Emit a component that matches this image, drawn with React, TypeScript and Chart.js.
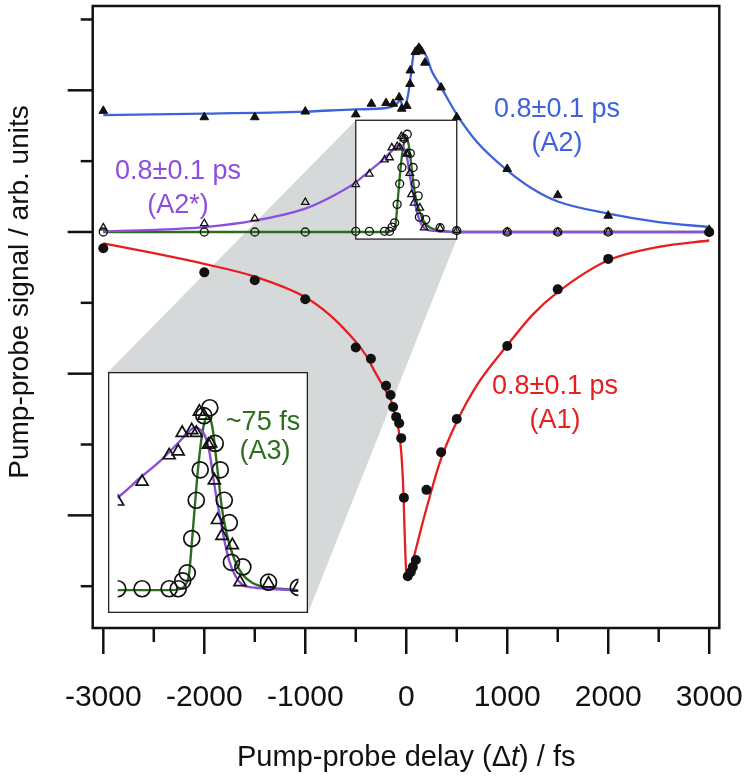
import React, { useEffect, useRef } from "react";
import { Chart, registerables } from "chart.js";
Chart.register(...registerables);

// ---------- axis ticks ----------
const xTickValues = [-3000, -2500, -2000, -1500, -1000, -500, 0, 500, 1000, 1500, 2000, 2500, 3000];
const xTickLabels = ["-3000", "-2000", "-1000", "0", "1000", "2000", "3000"];
const xLabelValues = [-3000, -2000, -1000, 0, 1000, 2000, 3000];
const yMajorTicks = [2, 0, -2, -4];
const yMinorTicks = [3, 1, -1, -3, -5];

// ---------- A1 (filled circles, red fit) ----------
const a1X = [-3000, -2000, -1500, -1000, -500, -350, -200, -155, -130, -100, -70, -50, -23, 15, 45, 65, 95, 200, 345, 500, 1000, 1500, 2000, 3000];
const a1Y = [-0.23, -0.57, -0.68, -0.95, -1.63, -1.79, -2.17, -2.3, -2.47, -2.61, -2.7, -2.91, -3.75, -4.86, -4.8, -4.73, -4.63, -3.64, -3.11, -2.64, -1.61, -0.81, -0.38, 0.0];
const a1FitX = [-3000, -2500, -2000, -1500, -1000, -750, -500, -400, -300, -200, -150, -100, -75, -50, -30, -20, -10, 0, 15, 30, 60, 100, 150, 220, 335, 500, 700, 1000, 1250, 1500, 2000, 2500, 3000];
const a1FitY = [-0.16, -0.3, -0.45, -0.63, -0.92, -1.18, -1.55, -1.74, -2.0, -2.25, -2.38, -2.64, -2.8, -3.1, -3.6, -4.05, -4.5, -4.8, -4.9, -4.86, -4.68, -4.45, -4.17, -3.8, -3.24, -2.68, -2.16, -1.6, -1.17, -0.85, -0.4, -0.21, -0.12];

// ---------- A2 (filled triangles, blue fit) ----------
const a2X = [-3000, -2000, -1500, -1000, -500, -345, -200, -130, -70, -45, 5, 37, 40, 90, 125, 150, 185, 345, 500, 1000, 1500, 2000, 3000];
const a2Y = [1.71, 1.62, 1.62, 1.7, 1.66, 1.81, 1.82, 1.81, 1.9, 1.74, 1.78, 2.09, 2.28, 2.54, 2.6, 2.55, 2.39, 2.04, 1.62, 0.89, 0.52, 0.23, 0.03];
const a2FitX = [-3000, -2000, -1000, -500, -200, -100, -60, -30, 0, 20, 40, 70, 100, 135, 170, 200, 250, 335, 500, 700, 1000, 1250, 1500, 2000, 2500, 3000];
const a2FitY = [1.65, 1.67, 1.7, 1.73, 1.75, 1.8, 1.86, 1.76, 1.83, 1.95, 2.15, 2.49, 2.61, 2.63, 2.55, 2.48, 2.28, 2.07, 1.66, 1.27, 0.87, 0.61, 0.43, 0.26, 0.14, 0.07];

// ---------- A2* (open triangles, purple fit) ----------
const a2sX = [-3000, -2000, -1500, -1000, -500, -365, -215, -165, -143, -90, -65, -48, -23, 2, 15, 35, 52, 77, 135, 177, 335, 500, 1000, 1500, 2000, 3000];
const a2sY = [0.06, 0.12, 0.19, 0.42, 0.67, 0.82, 1.02, 1.05, 1.19, 1.21, 1.19, 1.35, 1.32, 1.1, 1.11, 0.83, 0.53, 0.41, 0.34, 0.06, 0.05, 0.02, 0, 0, 0, 0];
const a2sFitX = [-3000, -2500, -2000, -1500, -1000, -750, -500, -375, -255, -175, -105, -75, -50, -25, -7, 10, 27, 43, 68, 93, 118, 150, 190, 245, 330, 500, 3000];
const a2sFitY = [0.01, 0.03, 0.07, 0.16, 0.33, 0.49, 0.7, 0.85, 0.99, 1.1, 1.2, 1.23, 1.22, 1.19, 1.13, 1.03, 0.87, 0.73, 0.54, 0.36, 0.22, 0.11, 0.04, 0.02, 0.01, 0, 0];

// ---------- A3 (open circles, green fit) ----------
const a3X = [-3000, -2000, -1500, -1000, -500, -365, -215, -165, -140, -115, -90, -65, -43, -23, 10, 40, 68, 90, 118, 130, 193, 335, 500, 1000, 1500, 2000, 3000];
const a3Y = [0, 0, 0, 0, 0.01, 0.01, 0.01, 0.01, 0.07, 0.13, 0.39, 0.68, 0.91, 1.32, 1.38, 1.11, 0.91, 0.68, 0.51, 0.21, 0.175, 0.06, 0.02, 0, 0, 0, 0];
const a3FitX = [-3000, -500, -200, -150, -120, -105, -90, -75, -60, -45, -30, -15, 0, 15, 30, 45, 60, 75, 95, 120, 150, 190, 240, 320, 400, 500, 3000];
const a3FitY = [0, 0, 0, 0.01, 0.05, 0.12, 0.35, 0.6, 0.85, 1.05, 1.2, 1.29, 1.32, 1.29, 1.18, 1.0, 0.82, 0.64, 0.48, 0.34, 0.22, 0.12, 0.06, 0.02, 0.01, 0, 0];

// zoomed window shown in the inset (data units)
const zoomX = [-500, 500];
const zoomY = [-0.1, 1.577];

const BLUE = "rgb(62,98,220)";
const PURPLE = "rgb(140,78,222)";
const RED = "rgb(232,30,30)";
const GREEN = "rgb(44,110,30)";
const FONT = "'Liberation Sans', Arial, Helvetica, sans-serif";

const INSET = { left: 108, top: 372, width: 200, height: 241 };

const pts = (xs: number[], ys: number[]) => xs.map((x, i) => ({ x, y: ys[i] }));

function makeDatasets(inset: boolean) {
  const s = inset ? 1.6 : 1;
  const lw = inset ? 2.4 : 2.3;
  const fit = (xs: number[], ys: number[], color: string, order: number) => ({
    data: pts(xs, ys),
    showLine: true,
    borderColor: color,
    borderWidth: lw,
    pointRadius: 0,
    cubicInterpolationMode: "monotone" as const,
    order,
  });
  const ds: any[] = [];
  if (!inset) {
    ds.push({
      data: pts(a1X, a1Y),
      pointStyle: "circle",
      pointRadius: 5,
      backgroundColor: "#111",
      borderColor: "#111",
      borderWidth: 0,
      order: 0,
    });
    ds.push({
      data: pts(a2X, a2Y),
      pointStyle: "triangle",
      pointRadius: 5,
      backgroundColor: "#111",
      borderColor: "#111",
      borderWidth: 1,
      order: 0,
    });
  }
  ds.push({
    data: pts(a3X, a3Y),
    pointStyle: "circle",
    pointRadius: 4 * (inset ? 2 : 1),
    backgroundColor: "rgba(0,0,0,0)",
    borderColor: "#111",
    borderWidth: inset ? 1.7 : 1.3,
    order: 0,
  });
  ds.push({
    data: pts(a2sX, a2sY),
    pointStyle: "triangle",
    pointRadius: 4.3 * s,
    backgroundColor: "rgba(0,0,0,0)",
    borderColor: "#111",
    borderWidth: inset ? 1.7 : 1.3,
    order: 0,
  });
  if (!inset) {
    ds.push(fit(a1FitX, a1FitY, RED, 2));
    ds.push(fit(a2FitX, a2FitY, BLUE, 2));
  }
  ds.push(fit(a2sFitX, a2sFitY, PURPLE, 2));
  ds.push(fit(a3FitX, a3FitY, GREEN, 3));
  return ds;
}

const mainPlugin = {
  id: "mainDecor",
  beforeDatasetsDraw(chart: any) {
    const { ctx, scales } = chart;
    const xs = scales.x, ys = scales.y;
    const l = xs.getPixelForValue(zoomX[0]);
    const r = xs.getPixelForValue(zoomX[1]);
    const t = ys.getPixelForValue(zoomY[1]);
    const b = ys.getPixelForValue(zoomY[0]);
    ctx.save();
    ctx.fillStyle = "#d5d9d9";
    ctx.beginPath();
    ctx.moveTo(l, t);
    ctx.lineTo(r, t);
    ctx.lineTo(r, b);
    ctx.lineTo(INSET.left + INSET.width, INSET.top + INSET.height);
    ctx.lineTo(INSET.left, INSET.top + INSET.height);
    ctx.lineTo(INSET.left, INSET.top);
    ctx.closePath();
    ctx.fill();
    ctx.fillStyle = "#fff";
    ctx.fillRect(l, t, r - l, b - t);
    ctx.strokeStyle = "#222";
    ctx.lineWidth = 1.3;
    ctx.strokeRect(l, t, r - l, b - t);
    ctx.restore();
  },
  afterDraw(chart: any) {
    const { ctx, chartArea: a, scales } = chart;
    const xs = scales.x, ys = scales.y;
    ctx.save();
    ctx.strokeStyle = "#111";
    ctx.lineWidth = 2.5;
    ctx.strokeRect(a.left, a.top, a.right - a.left, a.bottom - a.top);
    // x ticks
    xTickValues.forEach((v) => {
      const px = xs.getPixelForValue(v);
      const major = v % 1000 === 0;
      ctx.beginPath();
      ctx.moveTo(px, a.bottom);
      ctx.lineTo(px, a.bottom + (major ? 26 : 14));
      ctx.stroke();
    });
    // y ticks
    yMajorTicks.forEach((v) => {
      const py = ys.getPixelForValue(v);
      ctx.beginPath();
      ctx.moveTo(a.left, py);
      ctx.lineTo(a.left - 25, py);
      ctx.stroke();
    });
    yMinorTicks.forEach((v) => {
      const py = ys.getPixelForValue(v);
      ctx.beginPath();
      ctx.moveTo(a.left, py);
      ctx.lineTo(a.left - 12, py);
      ctx.stroke();
    });
    // x tick labels
    ctx.fillStyle = "#111";
    ctx.font = `30px ${FONT}`;
    ctx.textAlign = "center";
    ctx.textBaseline = "middle";
    xLabelValues.forEach((v, i) => {
      ctx.fillText(xTickLabels[i], xs.getPixelForValue(v), 698);
    });
    // x title with italic t
    const parts = [
      { t: "Pump-probe delay (\u0394", f: `29px ${FONT}` },
      { t: "t", f: `italic 29px ${FONT}` },
      { t: ") / fs", f: `29px ${FONT}` },
    ];
    let total = 0;
    parts.forEach((p) => { ctx.font = p.f; total += ctx.measureText(p.t).width; });
    let cx = xs.getPixelForValue(0) - total / 2;
    ctx.textAlign = "left";
    parts.forEach((p) => { ctx.font = p.f; ctx.fillText(p.t, cx, 758); cx += ctx.measureText(p.t).width; });
    // y title
    ctx.save();
    ctx.translate(20, 292);
    ctx.rotate(-Math.PI / 2);
    ctx.textAlign = "center";
    ctx.font = `28px ${FONT}`;
    ctx.fillText("Pump-probe signal / arb. units", 0, 0);
    ctx.restore();
    // annotations
    ctx.textAlign = "center";
    ctx.font = `27px ${FONT}`;
    const ann = (lines: string[], x: number, y: number, c: string) => {
      ctx.fillStyle = c;
      lines.forEach((s, i) => ctx.fillText(s, x, y + i * 34));
    };
    ann(["0.8\u00b10.1 ps", "(A2)"], 557, 110, BLUE);
    ann(["0.8\u00b10.1 ps", "(A2*)"], 178, 172, PURPLE);
    ann(["0.8\u00b10.1 ps", "(A1)"], 555, 387, RED);
    ctx.restore();
  },
};

const insetPlugin = {
  id: "insetDecor",
  beforeDraw(chart: any) {
    const { ctx, width, height } = chart;
    ctx.save();
    ctx.fillStyle = "#fff";
    ctx.fillRect(0, 0, width, height);
    ctx.restore();
  },
  afterDraw(chart: any) {
    const { ctx, width, height } = chart;
    ctx.save();
    ctx.fillStyle = GREEN;
    ctx.font = `27px ${FONT}`;
    ctx.textAlign = "center";
    ctx.textBaseline = "middle";
    ctx.fillText("~75 fs", 263 - INSET.left, 423 - INSET.top);
    ctx.fillText("(A3)", 265 - INSET.left, 452 - INSET.top);
    ctx.strokeStyle = "#222";
    ctx.lineWidth = 1.3;
    ctx.strokeRect(0.65, 0.65, width - 1.3, height - 1.3);
    ctx.restore();
  },
};

export default function App() {
  const mainRef = useRef<HTMLCanvasElement>(null);
  const insetRef = useRef<HTMLCanvasElement>(null);

  useEffect(() => {
    const main = new Chart(mainRef.current!, {
      type: "scatter",
      data: { datasets: makeDatasets(false) },
      options: {
        animation: false,
        responsive: false,
        maintainAspectRatio: false,
        layout: { padding: { left: 92.7, right: 25.7, top: 3, bottom: 149 } },
        scales: {
          x: { type: "linear", min: -3105, max: 3100, display: false },
          y: { type: "linear", min: -5.59, max: 3.19, display: false },
        },
        plugins: { legend: { display: false }, tooltip: { enabled: false } },
      },
      plugins: [mainPlugin],
    } as any);
    const inset = new Chart(insetRef.current!, {
      type: "scatter",
      data: { datasets: makeDatasets(true) },
      options: {
        animation: false,
        responsive: false,
        maintainAspectRatio: false,
        layout: { padding: 0 },
        scales: {
          x: { type: "linear", min: zoomX[0], max: zoomX[1], display: false },
          y: { type: "linear", min: zoomY[0], max: zoomY[1], display: false },
        },
        plugins: { legend: { display: false }, tooltip: { enabled: false } },
      },
      plugins: [insetPlugin],
    } as any);
    return () => {
      main.destroy();
      inset.destroy();
    };
  }, []);

  return (
    <div style={{ position: "fixed", left: 0, top: 0, width: 745, height: 777, background: "#fff" }}>
      <canvas ref={mainRef} width={745} height={777} style={{ position: "absolute", left: 0, top: 0, width: 745, height: 777 }} />
      <canvas
        ref={insetRef}
        width={INSET.width}
        height={INSET.height}
        style={{ position: "absolute", left: INSET.left, top: INSET.top, width: INSET.width, height: INSET.height }}
      />
    </div>
  );
}
